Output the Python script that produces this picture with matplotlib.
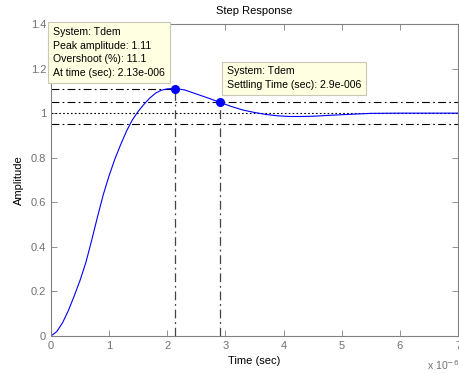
import matplotlib
matplotlib.use("Agg")
import matplotlib.pyplot as plt

plt.rcParams["font.family"] = ["Liberation Sans", "DejaVu Sans"]

# step response (time in microseconds)
t_us = [0, 0.1, 0.2, 0.3, 0.4, 0.5, 0.6, 0.7, 0.8, 0.9, 1.0, 1.1, 1.2, 1.3,
        1.4, 1.5, 1.6, 1.7, 1.8, 1.9, 2.0, 2.13, 2.3, 2.5, 2.7, 2.9, 3.1,
        3.3, 3.5, 3.7, 3.9, 4.1, 4.3, 4.5, 4.7, 5.0, 5.5, 6.0, 7.0]
amp = [0, 0.02, 0.06, 0.115, 0.18, 0.25, 0.33, 0.43, 0.535, 0.635, 0.72,
       0.795, 0.86, 0.92, 0.97, 1.008, 1.04, 1.068, 1.09, 1.103, 1.109,
       1.111, 1.104, 1.086, 1.068, 1.049, 1.03, 1.014, 1.003, 0.994, 0.988,
       0.985, 0.985, 0.986, 0.989, 0.993, 0.999, 1.0, 1.0]

peak_t, peak_amp, overshoot = 2.13, 1.11, 11.1
settle_t, settle_amp = 2.9, 1.049
final = 1.0
band = (0.95, 1.05)

xticks = [0, 1, 2, 3, 4, 5, 6, 7]
yticks = [0, 0.2, 0.4, 0.6, 0.8, 1, 1.2, 1.4]

W, H = 460, 374
fig = plt.figure(figsize=(W / 100, H / 100), dpi=100)
ax = fig.add_axes([51 / W, (H - 336) / H, (458 - 51) / W, (336 - 24) / H])

dashdot = (0, (7, 3, 1.5, 3))
ax.axhline(final, color="k", lw=0.8, ls=(0, (1.5, 2)))
for b in band:
    ax.axhline(b, color="k", lw=0.8, ls=dashdot)
ax.plot([0, peak_t], [peak_amp, peak_amp], color="k", lw=0.8, ls=dashdot)
ax.plot([peak_t, peak_t], [0, peak_amp], color="#444444", lw=0.9, ls=dashdot)
ax.plot([settle_t, settle_t], [0, settle_amp], color="#444444", lw=0.9, ls=dashdot)

ax.plot(t_us, amp, color="#0000ff", lw=0.8)
ax.plot([peak_t, settle_t], [peak_amp, settle_amp], "o", color="#0000ff",
        ms=5.5, zorder=5)

ax.set_xlim(0, 7)
ax.set_ylim(0, 1.4)
ax.set_xticks(xticks)
ax.set_yticks(yticks)
ax.set_xticklabels([str(v) for v in xticks])
ax.set_yticklabels(["0", "0.2", "0.4", "0.6", "0.8", "1", "1.2", "1.4"])
ax.tick_params(direction="in", top=True, right=True, length=4, width=0.6,
               colors="#808080", labelsize=8, labelcolor="#707070")
for s in ax.spines.values():
    s.set_color("#808080")
    s.set_linewidth(0.8)

ax.set_title("Step Response", fontsize=8, pad=7)
ax.set_xlabel("Time (sec)", fontsize=8, labelpad=4)
ax.set_ylabel("Amplitude", fontsize=8, labelpad=5)
ax.text(0.925, -0.092, r"x 10$^{-6}$", transform=ax.transAxes, fontsize=7.6,
        color="#707070", va="center", ha="left")

box = dict(boxstyle="square,pad=0.45", fc="#ffffe1", ec="#c8c8b4", lw=0.8)
ax.text(0.034, 1.386,
        "System: Tdem\nPeak amplitude: %.2f\nOvershoot (%%): %.1f\nAt time (sec): 2.13e-006"
        % (peak_amp, overshoot),
        fontsize=7.6, va="top", ha="left", bbox=box, linespacing=1.45, zorder=6)
ax.text(3.03, 1.21, "System: Tdem\nSettling Time (sec): 2.9e-006",
        fontsize=7.6, va="top", ha="left", bbox=box, linespacing=1.45, zorder=6)

fig.savefig("out.png", dpi=100)
